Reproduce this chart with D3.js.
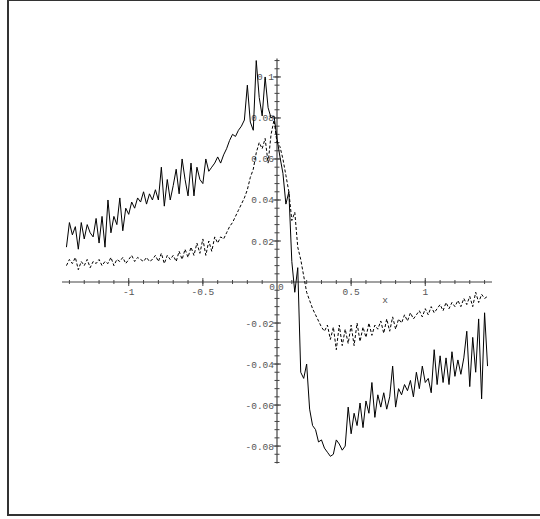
<!DOCTYPE html>
<html>
<head>
<meta charset="utf-8">
<script src="https://cdn.jsdelivr.net/npm/d3@7"></script>
<style>
  body { margin: 0; background: #fff; }
  text { font-family: "Liberation Mono", "DejaVu Sans Mono", monospace; }
</style>
</head>
<body>
<div id="chart"></div>
<script>
var width = 540;
var height = 519;

// sample grid of both curves
var xFirst = -1.42;
var xStep = 0.02;

// solid curve
var solidValues = [
  0.017, 0.029, 0.023, 0.027, 0.016, 0.029, 0.021, 0.028, 0.024, 0.022,
  0.031, 0.019, 0.032, 0.017, 0.040, 0.024, 0.032, 0.028, 0.041, 0.025,
  0.036, 0.033, 0.039, 0.036, 0.041, 0.039, 0.044, 0.038, 0.043, 0.040,
  0.045, 0.040, 0.056, 0.037, 0.050, 0.040, 0.047, 0.055, 0.043, 0.060,
  0.050, 0.042, 0.058, 0.042, 0.056, 0.050, 0.048, 0.060, 0.054, 0.056,
  0.058, 0.061, 0.058, 0.062, 0.065, 0.069, 0.072, 0.071, 0.074, 0.076,
  0.079, 0.096, 0.078, 0.074, 0.108, 0.090, 0.081, 0.100, 0.085, 0.080,
  0.081, 0.070, 0.061, 0.053, 0.038, 0.044, 0.010, -0.005, 0.007, -0.044,
  -0.047, -0.040, -0.062, -0.070, -0.072, -0.078, -0.077, -0.081, -0.083, -0.085,
  -0.084, -0.077, -0.079, -0.082, -0.080, -0.061, -0.074, -0.064, -0.070, -0.059,
  -0.071, -0.058, -0.064, -0.049, -0.066, -0.055, -0.061, -0.054, -0.062, -0.056,
  -0.041, -0.061, -0.052, -0.055, -0.050, -0.053, -0.048, -0.056, -0.044, -0.052,
  -0.041, -0.049, -0.047, -0.054, -0.033, -0.050, -0.036, -0.049, -0.037, -0.050,
  -0.034, -0.046, -0.038, -0.045, -0.037, -0.024, -0.051, -0.027, -0.044, -0.018,
  -0.057, -0.015, -0.041
];

// dashed curve
var dashedValues = [
  0.008, 0.011, 0.009, 0.012, 0.006, 0.010, 0.008, 0.011, 0.007, 0.010,
  0.009, 0.011, 0.008, 0.010, 0.009, 0.012, 0.008, 0.011, 0.010, 0.012,
  0.009, 0.011, 0.013, 0.010, 0.012, 0.011, 0.010, 0.012, 0.010, 0.011,
  0.013, 0.010, 0.014, 0.009, 0.013, 0.011, 0.013, 0.010, 0.015, 0.011,
  0.016, 0.012, 0.017, 0.013, 0.019, 0.014, 0.021, 0.013, 0.020, 0.015,
  0.022, 0.019, 0.022, 0.021, 0.024, 0.027, 0.029, 0.032, 0.035, 0.038,
  0.041, 0.045, 0.051, 0.055, 0.063, 0.068, 0.065, 0.070, 0.058, 0.072,
  0.079, 0.068, 0.066, 0.060, 0.052, 0.044, 0.030, 0.034, 0.017, 0.011,
  0.003, -0.005, -0.009, -0.013, -0.016, -0.019, -0.022, -0.024, -0.021, -0.028,
  -0.022, -0.033, -0.021, -0.031, -0.023, -0.030, -0.021, -0.031, -0.020, -0.029,
  -0.022, -0.027, -0.020, -0.026, -0.021, -0.023, -0.019, -0.025, -0.018, -0.024,
  -0.017, -0.023, -0.018, -0.020, -0.016, -0.019, -0.015, -0.018, -0.016, -0.014,
  -0.017, -0.013, -0.016, -0.012, -0.015, -0.013, -0.011, -0.014, -0.010, -0.013,
  -0.010, -0.012, -0.009, -0.012, -0.008, -0.011, -0.007, -0.012, -0.005, -0.010,
  -0.006, -0.008, -0.007
];

var xTicks = [-1, -0.5, 0.5, 1];
var xTickLabels = ['-1', '-0.5', '0.5', '1'];
var yTicks = [-0.08, -0.06, -0.04, -0.02, 0.02, 0.04, 0.06, 0.08, 0.1];
var yTickLabels = ['-0.08', '-0.06', '-0.04', '-0.02', '0.02', '0.04', '0.06', '0.08', '0.1'];
var xMinorStep = 0.1;
var yMinorStep = 0.004;
var xLabel = 'x';

var axisColour = '#444';
var textColour = '#555';
var fontSize = 9.5;

var x = d3.scaleLinear().domain([-1.45, 1.45]).range([62, 492]);
var y = d3.scaleLinear().domain([-0.0885, 0.109]).range([463.5, 58.5]);

var svg = d3.select('#chart')
  .append('svg')
  .attr('width', width)
  .attr('height', height);

// frame
svg.append('rect')
  .attr('x', 8)
  .attr('y', 0)
  .attr('width', 560)
  .attr('height', 515)
  .attr('fill', 'none')
  .attr('stroke', '#333')
  .attr('stroke-width', 2);

var x0 = x(0);
var y0 = y(0);

// minor ticks
var xMinor = d3.range(-14, 15).filter(function (k) { return k !== 0; })
  .map(function (k) { return k * xMinorStep; });
var yMinor = d3.range(-22, 28).filter(function (k) { return k !== 0; })
  .map(function (k) { return k * yMinorStep; })
  .filter(function (v) { return v >= y.domain()[0] && v <= y.domain()[1]; });

var axes = svg.append('g');

axes.selectAll('.xminor')
  .data(xMinor)
  .enter()
  .append('line')
  .attr('x1', function (d) { return x(d); })
  .attr('x2', function (d) { return x(d); })
  .attr('y1', y0 - 2)
  .attr('y2', y0 + 2)
  .attr('stroke', axisColour);

axes.selectAll('.xmajor')
  .data(xTicks)
  .enter()
  .append('line')
  .attr('x1', function (d) { return x(d); })
  .attr('x2', function (d) { return x(d); })
  .attr('y1', y0 - 4)
  .attr('y2', y0 + 4)
  .attr('stroke', axisColour);

axes.selectAll('.yminor')
  .data(yMinor)
  .enter()
  .append('line')
  .attr('y1', function (d) { return y(d); })
  .attr('y2', function (d) { return y(d); })
  .attr('x1', x0 - 2.5)
  .attr('x2', x0 + 2.5)
  .attr('stroke', axisColour);

axes.selectAll('.ymajor')
  .data(yTicks)
  .enter()
  .append('line')
  .attr('y1', function (d) { return y(d); })
  .attr('y2', function (d) { return y(d); })
  .attr('x1', x0 - 4)
  .attr('x2', x0 + 4)
  .attr('stroke', axisColour);

// axis lines
axes.append('line')
  .attr('x1', x.range()[0]).attr('x2', x.range()[1])
  .attr('y1', y0).attr('y2', y0)
  .attr('stroke', axisColour)
  .attr('stroke-width', 1.2);

axes.append('line')
  .attr('x1', x0).attr('x2', x0)
  .attr('y1', y.range()[0]).attr('y2', y.range()[1])
  .attr('stroke', axisColour)
  .attr('stroke-width', 1.2);

// tick labels
axes.selectAll('.xlabel')
  .data(xTicks)
  .enter()
  .append('text')
  .text(function (d, i) { return xTickLabels[i]; })
  .attr('x', function (d) { return x(d); })
  .attr('y', y0 + 13)
  .attr('text-anchor', 'middle')
  .attr('font-size', fontSize)
  .attr('fill', textColour);

axes.selectAll('.ylabel')
  .data(yTicks)
  .enter()
  .append('text')
  .text(function (d, i) { return yTickLabels[i]; })
  .attr('x', x0 - 3)
  .attr('y', function (d) { return y(d) + 3.5; })
  .attr('text-anchor', 'end')
  .attr('font-size', fontSize)
  .attr('fill', textColour);

// the two zeros at the origin
axes.append('text')
  .text('0')
  .attr('x', x0 - 2)
  .attr('y', y0 + 8)
  .attr('text-anchor', 'end')
  .attr('font-size', fontSize)
  .attr('fill', textColour);

axes.append('text')
  .text('0')
  .attr('x', x0 + 1)
  .attr('y', y0 + 8)
  .attr('text-anchor', 'start')
  .attr('font-size', fontSize)
  .attr('fill', textColour);

axes.append('text')
  .text(xLabel)
  .attr('x', 385)
  .attr('y', y0 + 21)
  .attr('text-anchor', 'middle')
  .attr('font-size', fontSize)
  .attr('fill', textColour);

// curves
var line = d3.line()
  .x(function (d, i) { return x(xFirst + i * xStep); })
  .y(function (d) { return y(d); });

svg.append('path')
  .datum(dashedValues)
  .attr('d', line)
  .attr('fill', 'none')
  .attr('stroke', '#000')
  .attr('stroke-width', 1)
  .attr('stroke-dasharray', '3,2');

svg.append('path')
  .datum(solidValues)
  .attr('d', line)
  .attr('fill', 'none')
  .attr('stroke', '#000')
  .attr('stroke-width', 1);
</script>
</body>
</html>
